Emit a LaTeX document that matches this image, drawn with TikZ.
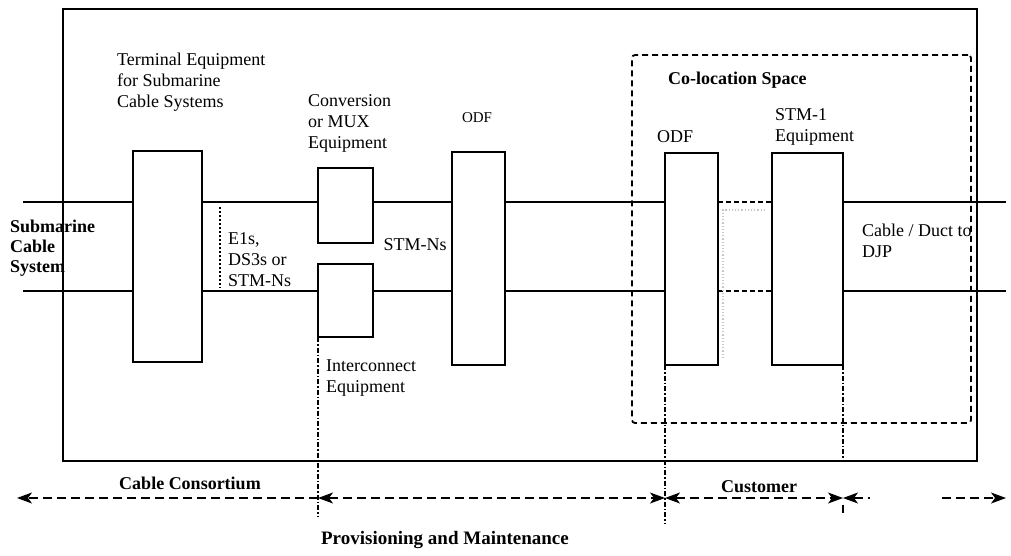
\documentclass[tikz,border=0pt]{standalone}
\usepackage{fontspec}
\setmainfont{Liberation Serif}
\usetikzlibrary{arrows.meta}
\begin{document}
\begin{tikzpicture}[x=1pt,y=-1pt,
  >={Stealth[length=15pt,width=11pt,inset=4pt]},
  eqbox/.style={draw, line width=2.2pt, fill=white, anchor=north west, inner sep=0pt, outer sep=0pt},
  wire/.style={line width=1.8pt},
  dwire/.style={line width=1.8pt, dash pattern=on 5pt off 3pt},
  dashdot/.style={line width=1.2pt, dash pattern=on 5pt off 2pt on 1.5pt off 2pt},
  barrow/.style={line width=1.2pt, dash pattern=on 9pt off 5pt},
  lbl/.style={font=\fontsize{18}{21}\selectfont, align=left, inner sep=0pt},
  blbl/.style={font=\fontsize{18}{21}\selectfont\bfseries, align=left, inner sep=0pt}]
\useasboundingbox (0,0) rectangle (1011,555);
\fill[white] (0,0) rectangle (1011,555);

% outer building box
\node[draw, line width=2.2pt, anchor=north west, inner sep=0pt, outer sep=0pt,
      minimum width=914pt, minimum height=452pt] (outer) at (63,9) {};
% co-location space
\node[draw, line width=1.8pt, dash pattern=on 6pt off 4pt, rounded corners=3pt,
      anchor=north west, inner sep=0pt, outer sep=0pt,
      minimum width=339pt, minimum height=368pt] (coloc) at (632,55) {};

% equipment boxes
\node[eqbox, minimum width=69pt, minimum height=211pt] (term) at (133,151) {};
\node[eqbox, minimum width=55pt, minimum height=75pt] (mux) at (318,168) {};
\node[eqbox, minimum width=55pt, minimum height=73pt] (inter) at (318,264) {};
\node[eqbox, minimum width=53pt, minimum height=213pt] (odfa) at (452,152) {};
\node[eqbox, minimum width=53pt, minimum height=212pt] (odfb) at (665,153) {};
\node[eqbox, minimum width=71pt, minimum height=212pt] (stm) at (772,153) {};

% line ends
\coordinate (inA) at (23,202);
\coordinate (inB) at (23,291);
\coordinate (outA) at (1006,202);
\coordinate (outB) at (1006,291);

% upper line
\draw[wire] (inA) -- (inA -| term.west);
\draw[wire] (inA -| term.east) -- (inA -| mux.west);
\draw[wire] (inA -| mux.east) -- (inA -| odfa.west);
\draw[wire] (inA -| odfa.east) -- (inA -| odfb.west);
\draw[dwire] (inA -| odfb.east) -- (inA -| stm.west);
\draw[wire] (inA -| stm.east) -- (outA);
% lower line
\draw[wire] (inB) -- (inB -| term.west);
\draw[wire] (inB -| term.east) -- (inB -| inter.west);
\draw[wire] (inB -| inter.east) -- (inB -| odfa.west);
\draw[wire] (inB -| odfa.east) -- (inB -| odfb.west);
\draw[dwire] (inB -| odfb.east) -- (inB -| stm.west);
\draw[wire] (inB -| stm.east) -- (outB);

% faint trace between ODF and STM-1
\draw[gray!45, line width=1.2pt, dotted] (765,210) -- (723,210) -- (723,357);

% dotted interface marker
\coordinate (dtop) at (220,207);
\coordinate (dbot) at (220,288);
\draw[line width=1.6pt, dash pattern=on 1.5pt off 2.5pt] (dtop) -- (dbot);

% demarcation lines
\coordinate (d1) at (318,517);
\coordinate (d2) at (665,523);
\coordinate (d3) at (843,462);
\coordinate (d3a) at (843,505);
\coordinate (d3b) at (843,513);
\draw[dashdot] (inter.south west) -- (d1);
\draw[dashdot] (odfb.south west) -- (d2);
\draw[dashdot] (stm.south east) -- (d3);
\draw[line width=1.2pt] (d3a) -- (d3b);

% responsibility arrows
\coordinate (b0) at (17,498);
\coordinate (b1) at (318,498);
\coordinate (b2) at (665,498);
\coordinate (b3) at (843,498);
\coordinate (b4) at (870,498);
\coordinate (b5) at (942,498);
\coordinate (b6) at (1006,498);
\draw[barrow, ->] (b1) -- (b0);
\draw[barrow, <->] (b1) -- (b2);
\draw[barrow, <->] (b2) -- (b3);
\draw[barrow, <-] (b3) -- (b4);
\draw[barrow, ->] (b5) -- (b6);

% labels
\node[lbl, anchor=west] (lterm) at (117,82) {Terminal Equipment\\for Submarine\\Cable Systems};
\node[lbl, anchor=west] (lmux) at (308,123) {Conversion\\or MUX\\Equipment};
\node[lbl, font=\fontsize{15}{18}\selectfont] (lodfa) at (477,118) {ODF};
\node[blbl, anchor=west, font=\fontsize{18}{20}\selectfont\bfseries] (lsub) at (10,248) {Submarine\\Cable\\System};
\node[lbl, anchor=west] (lel) at (228,260) {E1s,\\DS3s or\\STM-Ns};
\node[lbl] (lstmn) at (415,245) {STM-Ns};
\node[lbl, anchor=west] (linter) at (326,378) {Interconnect\\Equipment};
\node[blbl, anchor=west] (lcoloc) at (668,80) {Co-location Space};
\node[lbl, anchor=west] (lodfb) at (657,137) {ODF};
\node[lbl, anchor=west] (lstm) at (775,127) {STM-1\\Equipment};
\node[lbl, anchor=west] (lcable) at (862,241) {Cable / Duct to\\DJP};
\node[blbl] (lcons) at (190,483) {Cable Consortium};
\node[blbl] (lcust) at (759,487) {Customer};
\node[blbl, font=\fontsize{19}{22}\selectfont\bfseries] (lprov) at (445,540) {Provisioning and Maintenance};
\end{tikzpicture}
\end{document}
